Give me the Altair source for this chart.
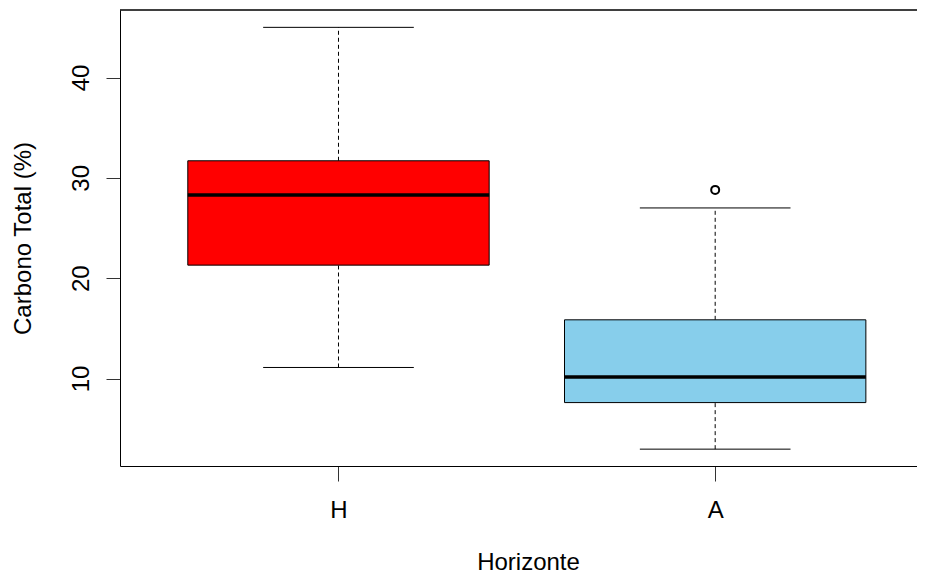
import altair as alt
import pandas as pd

# ---- data ----
categories = ["H", "A"]
lower_whisker = [11.1, 2.96]
q1 = [21.3, 7.6]
median = [28.3, 10.15]
q3 = [31.7, 15.85]
upper_whisker = [45.0, 27.0]
box_colors = ["#FF0000", "#87CEEB"]
outlier_cats = ["A"]
outlier_vals = [28.8]
y_ticks = [10, 20, 30, 40]

stats = pd.DataFrame({
    "cat": categories,
    "pos": list(range(1, len(categories) + 1)),
    "lo": lower_whisker,
    "q1": q1,
    "med": median,
    "q3": q3,
    "hi": upper_whisker,
    "color": box_colors,
})
outl = pd.DataFrame({
    "cat": outlier_cats,
    "val": outlier_vals,
    "pos": [categories.index(c) + 1 for c in outlier_cats],
})

W, H = 797, 456
xdom = [0.42, 0.42 + W / 376.7]
ydom = [1.28, 46.73]
FONT = "Liberation Sans"
FS = 24

label_expr = " : ".join(
    [f"datum.value == {i + 1} ? '{c}'" for i, c in enumerate(categories)] + ["''"]
)

xscale = alt.Scale(domain=xdom, nice=False, zero=False)
yscale = alt.Scale(domain=ydom, nice=False, zero=False)

xaxis = alt.Axis(
    values=list(range(1, len(categories) + 1)),
    labelExpr=label_expr,
    title="Horizonte",
    grid=False,
    tickSize=15,
    labelPadding=36,
    labelBaseline="alphabetic",
    labelAlign="center",
    labelFlush=False,
    titleX=408,
    titleY=103,
    titleBaseline="alphabetic",
    titleAlign="center",
)
yaxis = alt.Axis(
    values=y_ticks,
    title="Carbono Total (%)",
    grid=False,
    tickSize=14,
    labelAngle=270,
    labelAlign="center",
    labelBaseline="alphabetic",
    labelPadding=18,
    labelFlush=False,
    titleX=-90,
    titleY=228,
    titleAngle=270,
    titleBaseline="alphabetic",
    titleAlign="center",
)


def X(field):
    return alt.X(f"{field}:Q", scale=xscale, axis=xaxis)


def Y(field):
    return alt.Y(f"{field}:Q", scale=yscale, axis=yaxis)


base = alt.Chart(stats)

whisk_low = base.mark_rule(color="black", strokeWidth=1, strokeDash=[4, 3]).encode(
    x=X("pos"), y=Y("lo"), y2="q1:Q"
)
whisk_high = base.mark_rule(color="black", strokeWidth=1, strokeDash=[4, 3]).encode(
    x=X("pos"), y=Y("q3"), y2="hi:Q"
)

staples = base.transform_calculate(a="datum.pos - 0.2", b="datum.pos + 0.2")
staple_low = staples.mark_rule(color="black", strokeWidth=1).encode(
    x=X("a"), x2="b:Q", y=Y("lo")
)
staple_high = staples.mark_rule(color="black", strokeWidth=1).encode(
    x=X("a"), x2="b:Q", y=Y("hi")
)

boxes = base.transform_calculate(a="datum.pos - 0.4", b="datum.pos + 0.4")
box = boxes.mark_rect(stroke="black", strokeWidth=1).encode(
    x=X("a"), x2="b:Q", y=Y("q1"), y2="q3:Q",
    color=alt.Color("color:N", scale=None),
)
med = boxes.mark_rule(color="black", strokeWidth=3.5).encode(
    x=X("a"), x2="b:Q", y=Y("med")
)

outliers = alt.Chart(outl).mark_point(
    shape="circle", filled=False, size=64, strokeWidth=2, color="black", opacity=1
).encode(x=X("pos"), y=Y("val"))

top_frame = alt.Chart(stats).mark_rule(color="black", strokeWidth=1).encode(
    x=alt.value(0), x2=alt.value(W), y=alt.value(0)
)

chart = alt.layer(
    whisk_low, whisk_high, staple_low, staple_high, box, med, outliers, top_frame
).properties(
    width=W,
    height=H,
    padding={"left": 112, "top": 2, "right": 0, "bottom": 110},
    autosize=alt.AutoSizeParams(type="none"),
    background="white",
).configure_view(
    stroke=None
).configure_axis(
    domainColor="black",
    domainWidth=1,
    tickColor="#333333",
    tickWidth=1,
    labelFont=FONT,
    labelFontSize=FS,
    labelColor="black",
    titleFont=FONT,
    titleFontSize=FS,
    titleFontWeight="normal",
    titleColor="black",
)

chart.save("out.html", embed_options={"renderer": "svg", "actions": False})
